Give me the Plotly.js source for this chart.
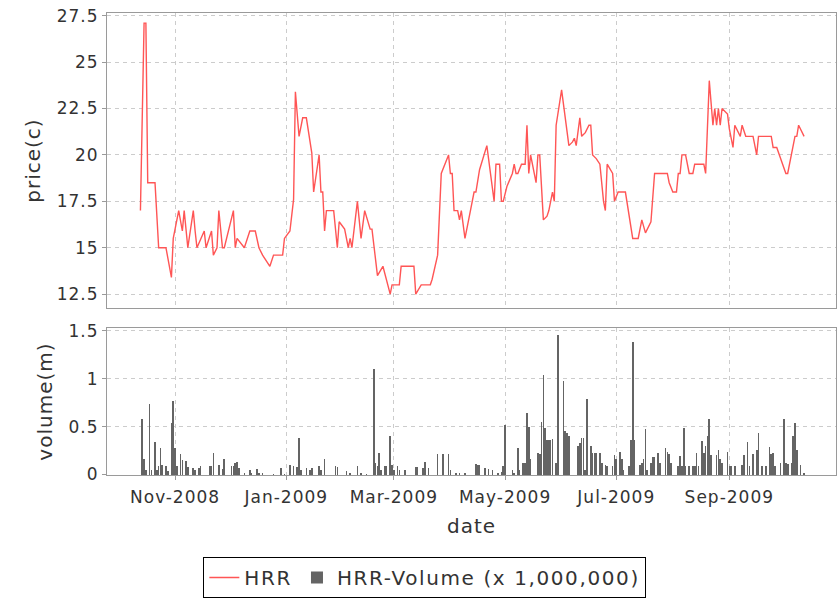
<!DOCTYPE html>
<html>
<head>
<meta charset="utf-8">
<script src="https://cdn.plot.ly/plotly-3.0.1.min.js"></script>
<style>
  html, body { margin: 0; padding: 0; background: #fff; }
  #chart { width: 837px; height: 598px; }
  svg text { letter-spacing: 1px; }
  text.legendtext { letter-spacing: 1.6px; }
</style>
</head>
<body>
<div id="chart"></div>
<script>
// ---- Data ----
const priceName = 'HRR';
const volumeName = 'HRR-Volume (x 1,000,000)';

const priceDates = ['2008-10-13','2008-10-15','2008-10-16','2008-10-17','2008-10-21','2008-10-23','2008-10-27','2008-10-30','2008-10-31','2008-11-03',
'2008-11-05','2008-11-06','2008-11-08','2008-11-11','2008-11-12','2008-11-13','2008-11-17','2008-11-18','2008-11-21','2008-11-22',
'2008-11-24','2008-11-25','2008-11-27','2008-11-28','2008-12-03','2008-12-04','2008-12-05','2008-12-09','2008-12-12','2008-12-15',
'2008-12-17','2008-12-19','2008-12-23','2008-12-25','2008-12-30','2008-12-31','2009-01-03','2009-01-05','2009-01-06','2009-01-08',
'2009-01-10','2009-01-12','2009-01-15','2009-01-16','2009-01-19','2009-01-20','2009-01-21','2009-01-22','2009-01-23','2009-01-27',
'2009-01-29','2009-01-30','2009-02-02','2009-02-04','2009-02-05','2009-02-06','2009-02-09','2009-02-11','2009-02-13','2009-02-16',
'2009-02-17','2009-02-20','2009-02-23','2009-02-27','2009-02-28','2009-03-04','2009-03-05','2009-03-12','2009-03-13','2009-03-16',
'2009-03-21','2009-03-22','2009-03-25','2009-03-27','2009-03-31','2009-04-01','2009-04-02','2009-04-03','2009-04-05','2009-04-06',
'2009-04-07','2009-04-09','2009-04-12','2009-04-14','2009-04-15','2009-04-17','2009-04-21','2009-04-25','2009-04-26','2009-04-28',
'2009-04-29','2009-04-30','2009-05-02','2009-05-05','2009-05-06','2009-05-07','2009-05-08','2009-05-10','2009-05-12','2009-05-13',
'2009-05-14','2009-05-15','2009-05-17','2009-05-18','2009-05-19','2009-05-20','2009-05-22','2009-05-24','2009-05-25','2009-05-27',
'2009-05-28','2009-05-29','2009-06-01','2009-06-03','2009-06-05','2009-06-07','2009-06-08','2009-06-09','2009-06-11','2009-06-12',
'2009-06-14','2009-06-16','2009-06-17','2009-06-18','2009-06-20','2009-06-22','2009-06-24','2009-06-25','2009-06-26','2009-06-29',
'2009-06-30','2009-07-02','2009-07-06','2009-07-10','2009-07-13','2009-07-15','2009-07-17','2009-07-20','2009-07-22','2009-07-29',
'2009-07-30','2009-08-01','2009-08-03','2009-08-04','2009-08-05','2009-08-06','2009-08-08','2009-08-10','2009-08-12','2009-08-13',
'2009-08-18','2009-08-19','2009-08-21','2009-08-23','2009-08-24','2009-08-25','2009-08-26','2009-08-27','2009-08-28','2009-08-31',
'2009-09-01','2009-09-03','2009-09-04','2009-09-07','2009-09-08','2009-09-10','2009-09-14','2009-09-16','2009-09-17','2009-09-24',
'2009-09-25','2009-09-27','2009-10-02','2009-10-03','2009-10-06','2009-10-07','2009-10-08','2009-10-09','2009-10-12'];

const priceValues = [17.0,27.1,27.1,18.5,18.5,15.0,15.0,13.4,15.5,17.0,
15.9,17.0,15.0,17.0,15.9,15.0,15.9,15.0,15.9,14.6,
15.0,17.0,15.0,15.0,17.0,15.0,15.5,15.0,15.9,15.9,
15.0,14.6,14.0,14.6,14.6,15.5,15.9,17.6,23.4,21.0,
22.0,22.0,20.1,18.0,20.0,18.0,18.0,15.9,17.0,17.0,
15.0,16.4,16.0,15.0,15.5,15.0,17.5,15.5,17.0,16.0,
16.0,13.5,14.0,12.5,13.0,13.0,14.0,14.0,12.5,13.0,
13.0,13.3,14.6,19.0,20.0,19.0,19.0,17.0,17.0,16.5,
17.0,15.5,17.0,18.0,18.0,19.2,20.5,17.5,19.5,19.5,
17.5,17.5,18.3,19.0,19.5,19.0,19.0,19.5,19.5,21.6,
19.0,20.0,19.0,18.5,20.0,20.0,16.5,16.7,17.0,18.0,
17.5,21.6,23.5,22.1,20.5,20.7,20.9,20.5,22.0,21.0,
21.2,21.6,21.6,20.0,19.8,19.5,17.5,17.0,19.5,19.0,
17.5,18.0,18.0,15.5,15.5,16.5,15.8,16.4,19.0,19.0,
18.5,18.0,18.0,19.0,19.0,20.0,20.0,19.0,19.0,19.5,
19.5,19.0,24.0,21.6,22.5,21.6,22.5,21.6,22.5,22.2,
21.4,20.4,21.6,21.0,21.6,21.0,21.0,20.0,21.0,21.0,
20.4,20.4,19.0,19.0,20.4,21.0,21.0,21.6,21.0];

const volDates = ['2008-10-14','2008-10-15','2008-10-16','2008-10-18','2008-10-19','2008-10-21','2008-10-22','2008-10-23','2008-10-24','2008-10-25',
'2008-10-27','2008-10-28','2008-10-30','2008-10-31','2008-11-01','2008-11-02','2008-11-04','2008-11-05','2008-11-07','2008-11-08',
'2008-11-11','2008-11-12','2008-11-14','2008-11-15','2008-11-20','2008-11-21','2008-11-22','2008-11-25','2008-11-27','2008-11-28',
'2008-12-02','2008-12-03','2008-12-04','2008-12-05','2008-12-06','2008-12-09','2008-12-12','2008-12-13','2008-12-16','2008-12-17',
'2008-12-19','2008-12-25','2008-12-29','2008-12-31','2009-01-03','2009-01-05','2009-01-07','2009-01-08','2009-01-09','2009-01-12',
'2009-01-14','2009-01-15','2009-01-19','2009-01-20','2009-01-22','2009-01-28','2009-01-29','2009-02-03','2009-02-05','2009-02-09',
'2009-02-11','2009-02-14','2009-02-18','2009-02-19','2009-02-20','2009-02-21','2009-02-22','2009-02-24','2009-02-25','2009-02-27',
'2009-02-28','2009-03-01','2009-03-03','2009-03-04','2009-03-07','2009-03-13','2009-03-14','2009-03-17','2009-03-18','2009-03-20',
'2009-03-25','2009-03-28','2009-03-31','2009-04-01','2009-04-04','2009-04-06','2009-04-09','2009-04-15','2009-04-16','2009-04-17',
'2009-04-20','2009-04-22','2009-04-24','2009-04-27','2009-04-29','2009-04-30','2009-05-01','2009-05-05','2009-05-06','2009-05-08',
'2009-05-09','2009-05-11','2009-05-12','2009-05-13','2009-05-14','2009-05-15','2009-05-19','2009-05-20','2009-05-21','2009-05-22',
'2009-05-23','2009-05-24','2009-05-25','2009-05-26','2009-05-27','2009-05-29','2009-05-30','2009-06-02','2009-06-03','2009-06-04',
'2009-06-05','2009-06-10','2009-06-11','2009-06-12','2009-06-13','2009-06-14','2009-06-15','2009-06-17','2009-06-18','2009-06-19',
'2009-06-20','2009-06-22','2009-06-23','2009-06-25','2009-06-26','2009-06-29','2009-06-30','2009-07-01','2009-07-03','2009-07-04',
'2009-07-05','2009-07-08','2009-07-09','2009-07-10','2009-07-11','2009-07-14','2009-07-15','2009-07-16','2009-07-17','2009-07-18',
'2009-07-20','2009-07-21','2009-07-22','2009-07-24','2009-07-25','2009-07-28','2009-07-29','2009-07-30','2009-07-31','2009-08-04',
'2009-08-05','2009-08-06','2009-08-07','2009-08-08','2009-08-10','2009-08-12','2009-08-13','2009-08-14','2009-08-15','2009-08-17',
'2009-08-18','2009-08-19','2009-08-20','2009-08-21','2009-08-22','2009-08-25','2009-08-26','2009-08-27','2009-08-28','2009-08-31',
'2009-09-01','2009-09-02','2009-09-04','2009-09-08','2009-09-09','2009-09-11','2009-09-12','2009-09-14','2009-09-16','2009-09-17',
'2009-09-19','2009-09-21','2009-09-23','2009-09-24','2009-09-25','2009-09-26','2009-09-29','2009-10-01','2009-10-02','2009-10-03',
'2009-10-05','2009-10-06','2009-10-07','2009-10-08','2009-10-10','2009-10-12'];

const volValues = [0.58,0.16,0.05,0.74,0.05,0.34,0.05,0.09,0.28,0.10,
0.09,0.04,0.54,0.77,0.28,0.09,0.21,0.15,0.14,0.08,
0.07,0.05,0.07,0.09,0.09,0.09,0.23,0.10,0.06,0.16,
0.09,0.09,0.12,0.13,0.07,0.02,0.05,0.02,0.06,0.02,
0.02,0.01,0.07,0.01,0.10,0.09,0.08,0.38,0.05,0.07,
0.05,0.07,0.09,0.05,0.16,0.09,0.08,0.04,0.02,0.09,
0.02,0.01,1.10,0.12,0.09,0.22,0.05,0.09,0.09,0.40,
0.10,0.05,0.09,0.05,0.05,0.08,0.08,0.07,0.13,0.07,
0.21,0.21,0.21,0.05,0.02,0.02,0.02,0.11,0.10,0.10,
0.07,0.06,0.05,0.02,0.03,0.09,0.52,0.05,0.02,0.28,
0.05,0.12,0.12,0.64,0.50,0.16,0.22,0.21,0.55,1.04,
0.49,0.36,0.36,0.36,0.37,0.12,1.46,0.98,0.45,0.43,
0.40,0.30,0.33,0.38,0.38,0.05,0.79,0.30,0.23,0.23,
0.23,0.23,0.12,0.10,0.09,0.09,0.20,0.16,0.24,0.16,
0.05,0.09,0.36,1.38,0.36,0.10,0.12,0.16,0.48,0.05,
0.12,0.18,0.18,0.23,0.12,0.28,0.24,0.21,0.12,0.09,
0.19,0.09,0.49,0.09,0.09,0.09,0.09,0.22,0.09,0.35,
0.23,0.30,0.40,0.58,0.20,0.20,0.26,0.16,0.12,0.24,
0.09,0.09,0.09,0.10,0.20,0.34,0.09,0.21,0.26,0.43,
0.09,0.09,0.29,0.21,0.23,0.09,0.12,0.58,0.12,0.11,
0.12,0.40,0.54,0.26,0.10,0.02];

const xRange = ['2008-09-24 16:00', '2009-10-29 12:00'];
const priceRange = [11.75, 27.645];
const volumeRange = [-0.005, 1.53];

// ---- Styling ----
const FONT = 'DejaVu Sans, Verdana, sans-serif';
const TXT = '#333333';
const GRID = '#cccccc';
const FRAME = '#9a9a9a';
const DASH = '4px,4px';

const baseX = {
  type: 'date',
  range: xRange,
  tick0: '2008-11-01',
  dtick: 'M2',
  tickformat: '%b-%Y',
  showgrid: true,
  gridcolor: GRID,
  griddash: DASH,
  gridwidth: 1,
  showline: true,
  linecolor: FRAME,
  linewidth: 1,
  mirror: true,
  zeroline: false,
  tickfont: {family: FONT, size: 17, color: TXT}
};

const traces = [
  {
    type: 'scatter',
    mode: 'lines',
    name: priceName,
    x: priceDates,
    y: priceValues,
    xaxis: 'x2',
    yaxis: 'y2',
    line: {color: '#ff5555', width: 1.4},
    hoverinfo: 'x+y'
  },
  {
    type: 'bar',
    name: volumeName,
    x: volDates,
    y: volValues,
    xaxis: 'x',
    yaxis: 'y',
    width: 86400000 * 0.9,
    marker: {color: '#646464', line: {width: 0}},
    hoverinfo: 'x+y'
  }
];

const yCommon = {
  tick0: 0,
  ticks: 'outside',
  ticklen: 4,
  tickcolor: FRAME,
  showgrid: true,
  gridcolor: GRID,
  griddash: DASH,
  showline: true,
  linecolor: FRAME,
  mirror: true,
  zeroline: false,
  tickfont: {family: FONT, size: 17, color: TXT}
};

const layout = {
  width: 837,
  height: 598,
  margin: {l: 107, r: 1, t: 13, b: 121.5, pad: 0},
  paper_bgcolor: '#ffffff',
  plot_bgcolor: '#ffffff',
  font: {family: FONT, color: TXT},
  showlegend: true,
  bargap: 0,
  xaxis: Object.assign({}, baseX, {
    anchor: 'y',
    ticks: 'outside',
    ticklen: 4,
    tickcolor: FRAME,
    ticklabelstandoff: 3,
    title: {text: 'date', font: {family: FONT, size: 20, color: TXT}, standoff: 12}
  }),
  xaxis2: Object.assign({}, baseX, {
    anchor: 'y2',
    matches: 'x',
    showticklabels: false,
    ticks: ''
  }),
  yaxis: Object.assign({}, yCommon, {
    domain: [0, 0.318],
    range: volumeRange,
    dtick: 0.5,
    title: {text: 'volume(m)', font: {family: FONT, size: 20, color: TXT}, standoff: 10}
  }),
  yaxis2: Object.assign({}, yCommon, {
    domain: [0.3614, 1],
    range: priceRange,
    dtick: 2.5,
    title: {text: 'price(c)', font: {family: FONT, size: 20, color: TXT}, standoff: 10}
  }),
  legend: {
    orientation: 'h',
    x: 0.436,
    xanchor: 'center',
    y: -0.176,
    yanchor: 'top',
    bgcolor: '#ffffff',
    bordercolor: '#000000',
    borderwidth: 1,
    font: {family: FONT, size: 20, color: TXT},
    itemwidth: 30,
    traceorder: 'normal'
  }
};

Plotly.newPlot('chart', traces, layout, {displayModeBar: false, staticPlot: true});
</script>
</body>
</html>
